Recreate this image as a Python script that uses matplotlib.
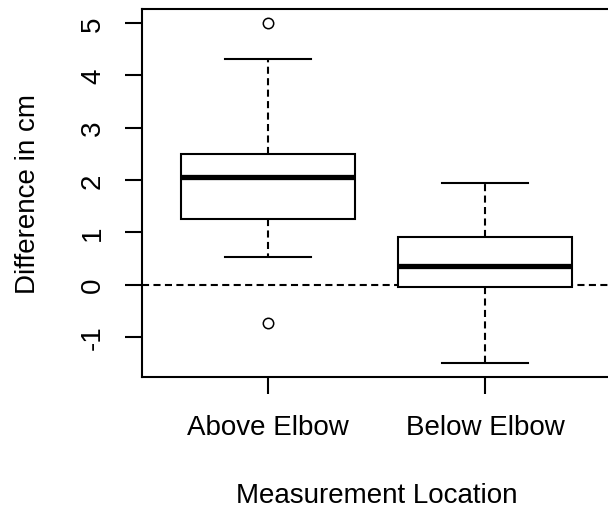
import matplotlib
matplotlib.use("Agg")
import matplotlib.pyplot as plt

# box statistics
groups = ["Above Elbow", "Below Elbow"]
whisker_low = [0.52, -1.50]
q1 = [1.25, -0.05]
medians = [2.05, 0.35]
q3 = [2.50, 0.91]
whisker_high = [4.32, 1.94]
outliers = [[5.0, -0.73], []]

plt.rcParams['font.family'] = ['Liberation Sans', 'DejaVu Sans']
plt.rcParams['axes.unicode_minus'] = False

fig = plt.figure(figsize=(6.08, 5.10), dpi=100)
ax = fig.add_axes([142 / 608, 132 / 510, 469 / 608, 368 / 510])

stats = []
for i, name in enumerate(groups):
    stats.append({
        'label': name, 'whislo': whisker_low[i], 'q1': q1[i], 'med': medians[i],
        'q3': q3[i], 'whishi': whisker_high[i], 'fliers': outliers[i],
    })

dash = (0, (3.4, 2.1))
ax.axhline(0, color='black', lw=1.5, linestyle=dash, zorder=1)
ax.bxp(stats, positions=[1, 2], widths=0.8, patch_artist=True,
       boxprops=dict(facecolor='white', edgecolor='black', lw=1.5),
       medianprops=dict(color='black', lw=3.8, solid_capstyle='butt'),
       whiskerprops=dict(color='black', lw=1.5, linestyle=dash),
       capprops=dict(color='black', lw=1.5),
       capwidths=0.4,
       flierprops=dict(marker='o', markerfacecolor='none', markeredgecolor='black',
                       markersize=7.5, markeredgewidth=1.1),
       zorder=2)

ax.set_xlim(0.42, 2.58)
ax.set_ylim(-1.765, 5.27)
ax.set_yticks([-1, 0, 1, 2, 3, 4, 5])
ax.set_xticks([1, 2])
ax.set_xticklabels(groups)
for s in ax.spines.values():
    s.set_linewidth(1.5)
ax.tick_params(axis='both', labelsize=20, length=12, width=1.5)
ax.tick_params(axis='x', pad=15)
ax.tick_params(axis='y', pad=14)
plt.setp(ax.get_yticklabels(), rotation=90, va='center')

ax.set_xlabel('Measurement Location', fontsize=20, labelpad=30)
ax.set_ylabel('Difference in cm', fontsize=20, labelpad=28)

fig.savefig('out.png', dpi=100)
